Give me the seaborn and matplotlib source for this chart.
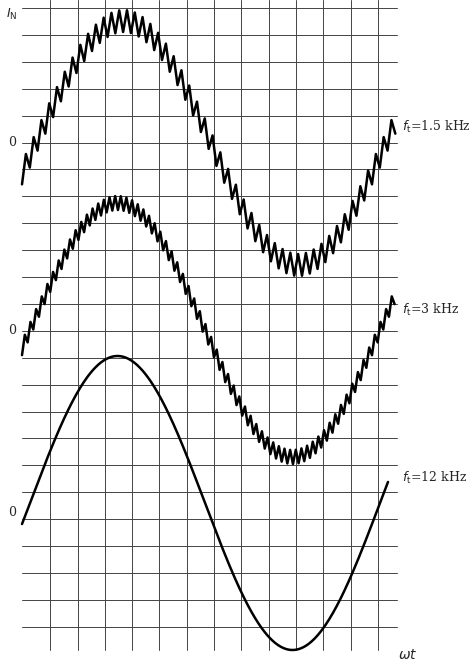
import numpy as np
import matplotlib
matplotlib.use("Agg")
import matplotlib.pyplot as plt
import seaborn as sns

# traces (pixel units of the 474x665 scan)
labels = ["$f_\\mathrm{t}$=1.5 kHz", "$f_\\mathrm{t}$=3 kHz", "$f_\\mathrm{t}$=12 kHz"]
zero_y = [143, 330, 503]          # zero line of each trace
label_zero_y = [143, 330, 513]
amplitude = [122, 127, 147]       # fundamental amplitude
ripple = [11, 7, 0]               # half peak-to-peak ripple
ripples_per_cycle = [45, 62, 0]   # ripple cycles per fundamental cycle
zero_x = [36, 30, 30]             # ascending zero crossing
label_y = [127, 310, 478]
period = 350
x_start, x_end = [22, 22, 22], [397, 397, 388]

grid_x = [23 + 27.3 * i for i in range(14)]
grid_y = [8 + 26.9 * i for i in range(24)]

sns.set_style("white")
fig = plt.figure(figsize=(4.74, 6.65), dpi=100)
ax = fig.add_axes([0, 0, 1, 1])
ax.set_xlim(0, 474)
ax.set_ylim(665, 0)
ax.axis("off")

for gx in grid_x[1:]:
    ax.plot([gx, gx], [0, 650], color="#444444", lw=0.7)
for gy in grid_y:
    ax.plot([22, 397], [gy, gy], color="#444444", lw=0.7)

for i in range(3):
    if ripples_per_cycle[i]:
        step = period / ripples_per_cycle[i] / 2
        xs = np.arange(x_start[i], x_end[i] + 0.1, step)
        sign = np.where(np.arange(len(xs)) % 2 == 0, 1, -1)
    else:
        xs = np.linspace(x_start[i], x_end[i], 400)
        sign = np.zeros(len(xs))
    base = amplitude[i] * np.sin(2 * np.pi * (xs - zero_x[i]) / period)
    ys = zero_y[i] - base + sign * ripple[i]
    sns.lineplot(x=xs, y=ys, ax=ax, color="black", lw=1.8, sort=False)
    ax.text(402, label_y[i], labels[i], fontsize=9, family="DejaVu Serif", va="center")
    ax.text(8, label_zero_y[i], "0", fontsize=9, family="DejaVu Serif", va="center")

ax.text(6, 14, "$I_\\mathrm{N}$", fontsize=9, va="center")
ax.text(398, 655, "$\\omega t$", fontsize=10, va="center")
fig.savefig("out.png", dpi=100)
